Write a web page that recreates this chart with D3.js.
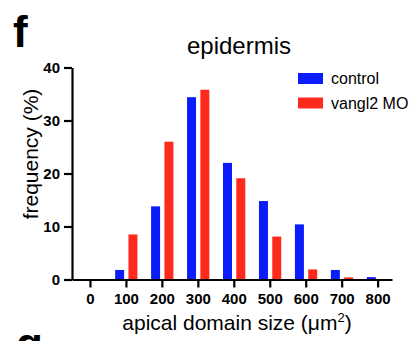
<!DOCTYPE html>
<html>
<head>
<meta charset="utf-8">
<script src="https://cdn.jsdelivr.net/npm/d3@7"></script>
<style>
  body { margin: 0; background: #fff; }
  text { font-family: "Liberation Sans", Arial, sans-serif; fill: #000; }
</style>
</head>
<body>
<svg id="chart" width="415" height="341"></svg>
<script>
// bin centres (apical domain size, um^2)
var bins = [0, 100, 200, 300, 400, 500, 600, 700, 800];
var control = [0, 1.8, 13.8, 34.4, 22.0, 14.8, 10.4, 1.8, 0.45];
var vangl2 = [0, 8.5, 26.0, 35.8, 19.1, 8.1, 1.9, 0.4, 0];
var yTicks = [0, 10, 20, 30, 40];
var seriesNames = ["control", "vangl2 MO"];
var colors = ["#0a1cfb", "#fd2a1d"];

var svg = d3.select("#chart");

var x = d3.scaleLinear().domain([-50, 840]).range([72, 392]);
var y = d3.scaleLinear().domain([0, 40]).range([279.5, 67.5]);

// bar offsets in data units relative to bin tick
var offs = [[-30, -5], [7, 32]];

[control, vangl2].forEach(function(vals, s) {
    svg.append("g").selectAll("rect")
        .data(bins)
        .enter().append("rect")
        .attr("x", function(d) { return x(d + offs[s][0]); })
        .attr("width", function(d) { return x(d + offs[s][1]) - x(d + offs[s][0]); })
        .attr("y", function(d, i) { return y(vals[i]); })
        .attr("height", function(d, i) { return y(0) - y(vals[i]); })
        .attr("fill", colors[s]);
});

// axes
var xAxis = svg.append("g")
    .attr("transform", "translate(0," + y(0) + ")")
    .call(d3.axisBottom(x).tickValues(bins).tickSize(8).tickPadding(6).tickSizeOuter(0));
var yAxis = svg.append("g")
    .attr("transform", "translate(" + x(-50) + ",0)")
    .call(d3.axisLeft(y).tickValues(yTicks).tickSize(8).tickPadding(4).tickSizeOuter(0));

[xAxis, yAxis].forEach(function(a) {
    a.select(".domain").attr("stroke", "#000").attr("stroke-width", 2.2);
    a.selectAll(".tick line").attr("stroke", "#000").attr("stroke-width", 2.2);
    a.selectAll(".tick text")
        .style("font-family", "Liberation Sans, Arial, sans-serif")
        .style("font-size", "15px")
        .style("font-weight", "bold")
        .attr("fill", "#000");
});
yAxis.selectAll(".tick text").attr("dy", "0.36em");

// titles
svg.append("text")
    .attr("x", 239).attr("y", 54)
    .attr("text-anchor", "middle")
    .style("font-size", "24px")
    .text("epidermis");

svg.append("text")
    .attr("x", 237).attr("y", 330)
    .attr("text-anchor", "middle")
    .style("font-size", "21px")
    .html("apical domain size (\u03bcm<tspan dy='-8' style='font-size:13px'>2</tspan><tspan dy='8'>)</tspan>");

svg.append("text")
    .attr("transform", "translate(38,154) rotate(-90)")
    .attr("text-anchor", "middle")
    .style("font-size", "21px")
    .text("frequency (%)");

// panel letters
svg.append("text")
    .attr("x", 13).attr("y", 47)
    .style("font-size", "44px").style("font-weight", "bold")
    .text("f");
svg.append("text")
    .attr("x", 16).attr("y", 359)
    .style("font-size", "44px").style("font-weight", "bold")
    .text("g");

// legend
var legend = svg.append("g").selectAll("g")
    .data(seriesNames)
    .enter().append("g")
    .attr("transform", function(d, i) { return "translate(298," + (73 + i * 24.5) + ")"; });
legend.append("rect")
    .attr("width", 25).attr("height", 11)
    .attr("fill", function(d, i) { return colors[i]; });
legend.append("text")
    .attr("x", 33).attr("y", 11)
    .style("font-size", "16px")
    .text(function(d) { return d; });
</script>
</body>
</html>
